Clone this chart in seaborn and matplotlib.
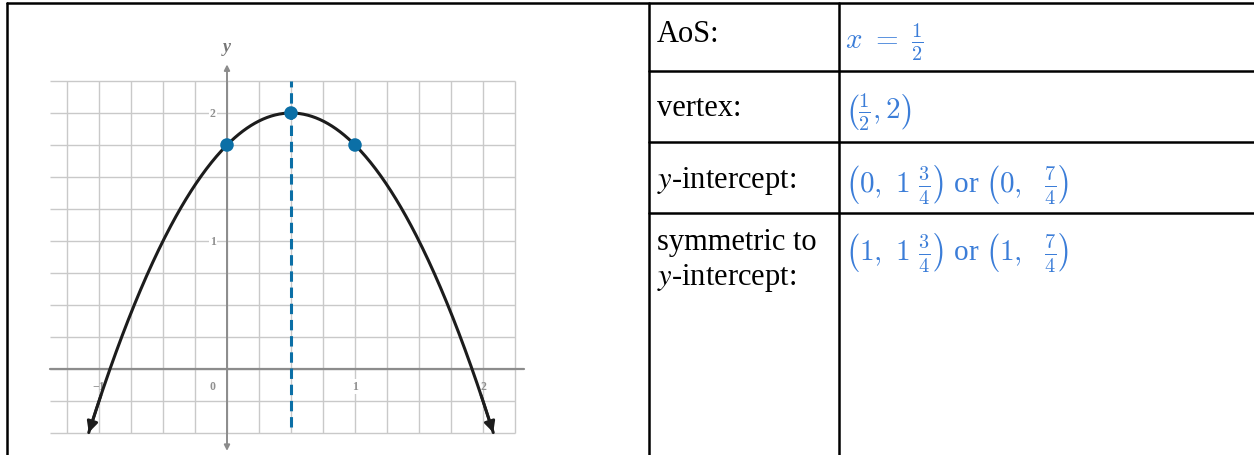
import numpy as np
import matplotlib
matplotlib.use("Agg")
import matplotlib.pyplot as plt
import seaborn as sns

# parabola in vertex form y = a(x - h)^2 + k
a, h, k = -1.0, 0.5, 2.0
x_ends = [-1.08, 2.08]          # where the curve leaves the grid (arrow tips)

# marked points: y-intercept, vertex, symmetric point
key_x = [0.0, 0.5, 1.0]
key_y = [1.75, 2.0, 1.75]

x_ticks = [-1, 0, 1, 2]
x_tick_text = ["\u22121", "0", "1", "2"]
y_ticks = [1, 2]
y_tick_text = ["1", "2"]

row_labels = ["AoS:", "vertex:", "$y$-intercept:", "symmetric to\n$y$-intercept:"]
row_values = [
    r"$x\ =\ \frac{1}{2}$",
    r"$\left(\frac{1}{2}, 2\right)$",
    r"$\left(0,\ 1\ \frac{3}{4}\right)$ or $\left(0,\ \ \frac{7}{4}\right)$",
    r"$\left(1,\ 1\ \frac{3}{4}\right)$ or $\left(1,\ \ \frac{7}{4}\right)$",
]

sns.set_theme(style="white")
plt.rcParams["font.family"] = ["Liberation Serif", "DejaVu Serif"]
plt.rcParams["mathtext.fontset"] = "cm"

W, H = 1254, 456
fig = plt.figure(figsize=(W / 100, H / 100), dpi=100)

# ---- table frame, drawn in pixel coordinates ----
bg = fig.add_axes([0, 0, 1, 1], zorder=0)
bg.set_xlim(0, W)
bg.set_ylim(H, 0)
bg.axis("off")
lw_tab = 1.8
bg.plot([7, W], [4, 4], color="black", lw=lw_tab)
for xv in [7, 649, 839]:
    bg.plot([xv, xv], [4, H], color="black", lw=lw_tab)
for yv in [72, 143, 214]:
    bg.plot([649, W], [yv, yv], color="black", lw=lw_tab)

label_y = [34, 109, 181, 261]
value_y = [42, 112, 185, 253]
for lab, ly in zip(row_labels, label_y):
    bg.text(657, ly, lab, fontsize=22, color="black", va="center", ha="left",
            linespacing=1.2, math_fontfamily="stix")
blue_txt = "#3b7dd8"
for val, vy in zip(row_values, value_y):
    bg.text(845, vy, val, fontsize=21, color=blue_txt, va="center", ha="left")

# ---- graph: 128 px per unit in both directions, origin at (227, 370) ----
px = 128.0
x0, y0 = 227.0, 370.0
xlim = (-1.45, 2.40)
ylim = (-0.67, 2.62)
left = x0 + xlim[0] * px
top = y0 - ylim[1] * px
wpx = (xlim[1] - xlim[0]) * px
hpx = (ylim[1] - ylim[0]) * px
ax = fig.add_axes([left / W, (H - top - hpx) / H, wpx / W, hpx / H], zorder=1)
ax.set_xlim(*xlim)
ax.set_ylim(*ylim)
ax.patch.set_alpha(0)
ax.axis("off")

grid_c = "#c9c9c9"
ax.hlines(np.arange(-0.5, 2.26, 0.25), -1.38, 2.25, color=grid_c, lw=1.0, zorder=1)
ax.vlines(np.arange(-1.25, 2.26, 0.25), -0.5, 2.25, color=grid_c, lw=1.0, zorder=1)

axis_c = "#8c8c8c"
ax.plot([-1.38, 2.32], [0, 0], color=axis_c, lw=1.6, zorder=2)
ax.annotate("", xy=(0, 2.38), xytext=(0, -0.64),
            arrowprops=dict(arrowstyle="<|-|>", color=axis_c, lw=1.4,
                            mutation_scale=8, shrinkA=0, shrinkB=0), zorder=2)
ax.text(0, 2.52, "y", fontsize=13, style="italic", color="#777777",
        ha="center", va="center", fontweight="bold")

tick_c = "#909090"
for xv, t in zip(x_ticks, x_tick_text):
    xpos = -0.11 if xv == 0 else xv
    ax.text(xpos, -0.135, t, fontsize=8.5, color=tick_c, ha="center", va="center",
            fontweight="bold",
            bbox=dict(facecolor="white", edgecolor="none", pad=1) if xv == 1 else None)
for yv, t in zip(y_ticks, y_tick_text):
    ax.text(-0.11, yv, t, fontsize=8.5, color=tick_c, ha="center", va="center",
            fontweight="bold", bbox=dict(facecolor="white", edgecolor="none", pad=1))

# axis of symmetry
dot_c = "#0b6fa6"
ax.plot([h, h], [-0.45, 2.25], color=dot_c, lw=2.2, dashes=(3.4, 1.9), zorder=3)

# parabola
xs = np.linspace(x_ends[0], x_ends[1], 400)
ys = a * (xs - h) ** 2 + k
sns.lineplot(x=xs, y=ys, sort=False, color="#1c1c1c", lw=2.2, ax=ax, zorder=4)
for i, j in [(0, 12), (-1, -13)]:
    ax.annotate("", xy=(xs[i], ys[i]), xytext=(xs[j], ys[j]),
                arrowprops=dict(arrowstyle="-|>", color="#1c1c1c", lw=2.0,
                                mutation_scale=16, shrinkA=0, shrinkB=0), zorder=4)

sns.scatterplot(x=key_x, y=key_y, color=dot_c, s=95, edgecolor="none", ax=ax, zorder=5)

fig.savefig("out.png", dpi=100)
